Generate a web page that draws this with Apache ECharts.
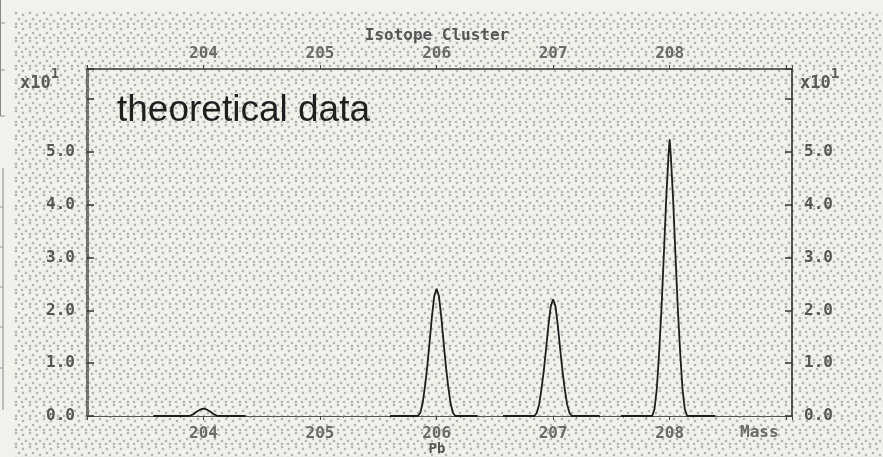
<!DOCTYPE html>
<html><head><meta charset="utf-8">
<script src="https://cdn.jsdelivr.net/npm/echarts@6/dist/echarts.min.js"></script>
<style>
html,body{margin:0;padding:0;background:#f3f1ec;width:883px;height:457px;overflow:hidden;}
#stip{position:absolute;left:14px;top:11px;width:869px;height:446px;}
#chart{position:absolute;left:0;top:0;width:883px;height:457px;}
</style></head><body>
<div id="stip"></div><div id="chart"></div>
<script>
// ---- data (intensity in units of x10^1 %) ----
const massTicks = [204, 205, 206, 207, 208];
const intensityTicks = [0, 1, 2, 3, 4, 5];
const peak204 = [[203.57,0],[203.88,0],[203.91,0.03],[203.94,0.08],[203.97,0.12],[204.00,0.14],[204.03,0.12],[204.06,0.08],[204.09,0.03],[204.12,0],[204.36,0]];
const peak206 = [[205.60,0],[205.84,0],[205.86,0.06],[205.88,0.24],[205.90,0.55],[205.92,0.94],[205.94,1.40],[205.96,1.88],[205.98,2.27],[206.00,2.41],[206.02,2.27],[206.04,1.88],[206.06,1.40],[206.08,0.94],[206.10,0.55],[206.12,0.24],[206.14,0.06],[206.16,0],[206.35,0]];
const peak207 = [[206.57,0],[206.84,0],[206.86,0.06],[206.88,0.22],[206.90,0.51],[206.92,0.86],[206.94,1.28],[206.96,1.72],[206.98,2.08],[207.00,2.21],[207.02,2.08],[207.04,1.72],[207.06,1.28],[207.08,0.86],[207.10,0.51],[207.12,0.22],[207.14,0.06],[207.16,0],[207.40,0]];
const peak208 = [[207.58,0],[207.85,0],[207.87,0.13],[207.89,0.52],[207.91,1.21],[207.93,2.04],[207.95,3.04],[207.97,4.09],[207.99,4.93],[208.00,5.24],[208.01,4.93],[208.03,4.09],[208.05,3.04],[208.07,2.04],[208.09,1.21],[208.11,0.52],[208.13,0.13],[208.15,0],[208.39,0]];
const peaks = [peak204, peak206, peak207, peak208];

// ---- stipple background ----
(function(){
  const c = document.createElement('canvas'); c.width = 14; c.height = 14;
  const g = c.getContext('2d');
  const dots = [[1,1],[8,3],[4,7],[11,9],[1,12],[7,12]];
  g.fillStyle = 'rgba(170,169,164,0.30)';
  dots.forEach(p => g.fillRect(p[0]-0.5, p[1]-0.5, 3, 3));
  g.fillStyle = '#b4b3ae';
  dots.forEach(p => g.fillRect(p[0], p[1], 2, 2));
  document.getElementById('stip').style.backgroundImage = 'url(' + c.toDataURL() + ')';
})();

const monoFont = '"DejaVu Sans Mono", "Liberation Mono", monospace';
const xMin = 203.0, xMax = 209.05, yMax = 6.57;
const xLabel = v => massTicks.indexOf(Math.round(v)) >= 0 && Math.abs(v - Math.round(v)) < 1e-6 ? String(Math.round(v)) : '';
const yLabel = v => intensityTicks.indexOf(Math.round(v)) >= 0 ? v.toFixed(1) : '';

const chart = echarts.init(document.getElementById('chart'), null, {renderer: 'canvas'});
const xCommon = {
  type: 'value', min: xMin, max: xMax, interval: 1,
  splitLine: {show: false},
  axisLabel: {formatter: xLabel, color: '#6a6a6a', fontFamily: monoFont, fontWeight: 'bold', fontSize: 16},
  axisTick: {show: true, inside: false, length: 4, lineStyle: {color: '#444'}},
  minorTick: {show: true, splitNumber: 5, length: 2, lineStyle: {color: '#777'}}
};
const yCommon = {
  type: 'value', min: 0, max: yMax, interval: 1,
  splitLine: {show: false},
  axisLabel: {formatter: yLabel, color: '#555', fontFamily: monoFont, fontWeight: 'bold', fontSize: 16, margin: 12},
  axisTick: {show: true, inside: true, length: 7, lineStyle: {color: '#333', width: 1.5}}
};
chart.setOption({
  animation: false,
  backgroundColor: 'transparent',
  grid: {left: 87, right: 91, top: 69, bottom: 41, containLabel: false, outerBoundsMode: 'none'},
  xAxis: [
    Object.assign({}, xCommon, {position: 'bottom',
      axisLabel: Object.assign({}, xCommon.axisLabel, {margin: 10}),
      axisLine: {show: true, onZero: false, lineStyle: {color: '#555', width: 1}}}),
    Object.assign({}, xCommon, {position: 'top',
      axisLabel: Object.assign({}, xCommon.axisLabel, {margin: 7}),
      axisLine: {show: true, onZero: false, lineStyle: {color: '#333', width: 1.5}}})
  ],
  yAxis: [
    Object.assign({}, yCommon, {position: 'left',
      axisLine: {show: true, lineStyle: {color: '#6e6e6e', width: 3}},
      minorTick: {show: true, splitNumber: 10, length: 2, lineStyle: {color: '#8a8a8a'}}}),
    Object.assign({}, yCommon, {position: 'right',
      axisLine: {show: true, lineStyle: {color: '#222', width: 1.5}}})
  ],
  series: peaks.map(p => ({
    type: 'line', xAxisIndex: 0, yAxisIndex: 0, data: p, showSymbol: false, symbol: 'none',
    lineStyle: {color: '#1e1e1e', width: 1.8}, silent: true, z: 3
  })),
  graphic: [
    {type: 'text', left: 117, top: 92, style: {text: 'theoretical data', font: '37px "Liberation Sans", Arial, sans-serif', fill: '#1f1f1f'}},
    {type: 'text', x: 437, y: 36, style: {text: 'Isotope Cluster', font: 'bold 16px ' + monoFont, fill: '#555', align: 'center', verticalAlign: 'middle'}},
    {type: 'text', x: 437, y: 449, style: {text: 'Pb', font: 'bold 14px ' + monoFont, fill: '#555', align: 'center', verticalAlign: 'middle'}},
    {type: 'text', left: 20, top: 67, style: {text: '{b|x10}{s|1}', rich: {
      b: {font: 'bold 17px ' + monoFont, fill: '#5a5a5a', verticalAlign: 'bottom', padding: [8,0,0,0]},
      s: {font: 'bold 14px ' + monoFont, fill: '#5a5a5a', verticalAlign: 'top'}}}},
    {type: 'text', left: 800, top: 67, style: {text: '{b|x10}{s|1}', rich: {
      b: {font: 'bold 17px ' + monoFont, fill: '#5a5a5a', verticalAlign: 'bottom', padding: [8,0,0,0]},
      s: {font: 'bold 14px ' + monoFont, fill: '#5a5a5a', verticalAlign: 'top'}}}},
    {type: 'text', left: 740, top: 425, style: {text: 'Mass', font: 'bold 16px ' + monoFont, fill: '#6a6a6a'}},
    // fragment of neighbouring figure at left edge
    {type: 'line', shape: {x1: 0.5, y1: 0, x2: 0.5, y2: 116}, style: {stroke: '#888', lineWidth: 1}},
    {type: 'line', shape: {x1: 0, y1: 23, x2: 5, y2: 23}, style: {stroke: '#999', lineWidth: 1}},
    {type: 'line', shape: {x1: 0, y1: 70, x2: 5, y2: 70}, style: {stroke: '#999', lineWidth: 1}},
    {type: 'line', shape: {x1: 0, y1: 116, x2: 5, y2: 116}, style: {stroke: '#999', lineWidth: 1}},
    {type: 'line', shape: {x1: 3, y1: 168, x2: 3, y2: 410}, style: {stroke: '#888', lineWidth: 1}},
    {type: 'line', shape: {x1: 0, y1: 207, x2: 3, y2: 207}, style: {stroke: '#999', lineWidth: 1}},
    {type: 'line', shape: {x1: 0, y1: 247, x2: 3, y2: 247}, style: {stroke: '#999', lineWidth: 1}},
    {type: 'line', shape: {x1: 0, y1: 287, x2: 3, y2: 287}, style: {stroke: '#999', lineWidth: 1}},
    {type: 'line', shape: {x1: 0, y1: 327, x2: 3, y2: 327}, style: {stroke: '#999', lineWidth: 1}},
    {type: 'line', shape: {x1: 0, y1: 368, x2: 3, y2: 368}, style: {stroke: '#999', lineWidth: 1}}
  ]
});
</script>
</body></html>
